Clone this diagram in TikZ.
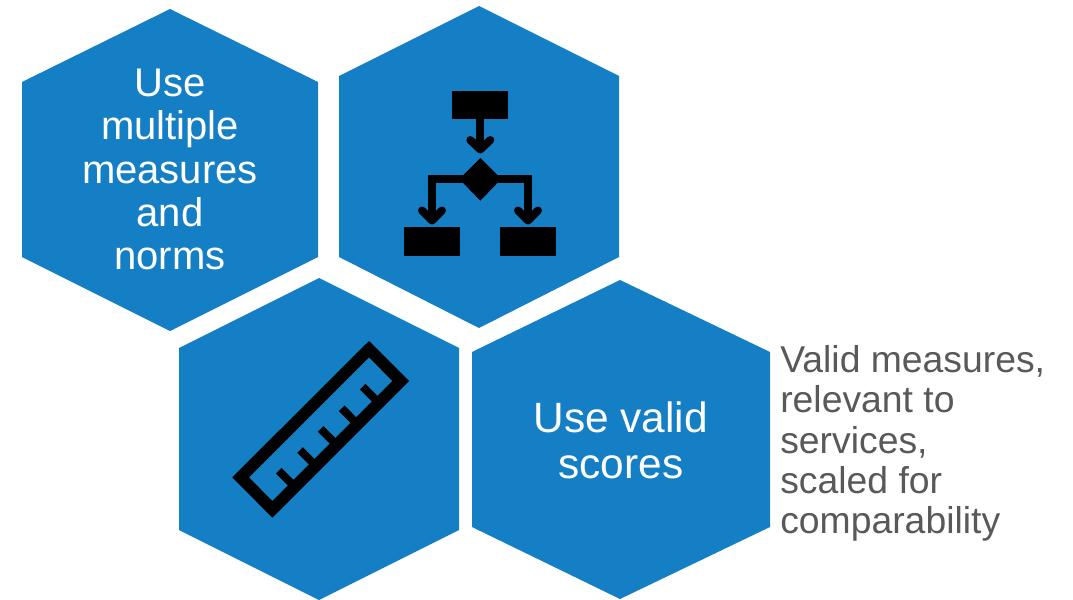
\documentclass[tikz,border=0pt]{standalone}
\usepackage{fontspec}
\setmainfont{Liberation Sans}
\definecolor{hexblue}{RGB}{20,127,196}
\definecolor{notegray}{RGB}{89,89,89}
\tikzset{
  hexshape/.style={fill=hexblue,draw=none},
  hextext/.style={text=white,align=center,inner sep=0pt},
  bigtext/.style={hextext,font=\fontsize{31.8}{34.5}\selectfont},
  midtext/.style={hextext,font=\fontsize{30}{32.4}\selectfont},
  notetext/.style={text=notegray,align=left,inner sep=0pt,anchor=north west,font=\fontsize{28}{30.1}\selectfont},
  iconfill/.style={fill=black,draw=none},
  iconline/.style={draw=black,line width=6pt,line join=miter},
  iconhead/.style={draw=black,line width=6pt,line cap=round,line join=round},
  tickline/.style={draw=black,line width=6pt}
}
\begin{document}
\begin{tikzpicture}[x=0.75pt,y=-0.75pt]
\useasboundingbox (0,0) rectangle (1073,599);
% hexagons
\fill[hexshape] (170,9)--(318,82)--(318,257)--(170,331)--(22,257)--(22,82)--cycle;
\fill[hexshape] (479,6)--(619,76)--(619,257)--(479,328)--(339,257)--(339,76)--cycle;
\fill[hexshape] (319,278)--(459,348)--(459,530)--(319,600)--(179,530)--(179,348)--cycle;
\fill[hexshape] (620,280)--(770,352)--(770,527)--(620,599)--(472,527)--(472,352)--cycle;
% texts
\node[midtext] (t1) at (170,169.5) {Use\\multiple\\measures\\and\\norms};
\node[bigtext] (t4) at (620.8,440) {Use valid\\scores};
\node[notetext] (t5) at (780,345.5) {Valid measures,\\relevant to\\services,\\scaled for\\comparability};
% flowchart icon
\fill[iconfill] (452,91) rectangle (508,119);
\fill[iconfill] (404,227) rectangle (460,255.7);
\fill[iconfill] (500,227) rectangle (556,255.7);
\fill[iconfill] (480.3,158)--(501.3,179)--(480.3,200.7)--(459.3,179)--cycle;
\draw[iconline] (480.3,119)--(480.3,148);
\draw[iconhead] (470.3,140)--(480.3,149.5)--(490.3,140);
\draw[iconline] (470,179)--(432,179)--(432,218);
\draw[iconline] (490,179)--(528,179)--(528,218);
\draw[iconhead] (422,210.5)--(432,220.5)--(442,210.5);
\draw[iconhead] (518,210.5)--(528,220.5)--(538,210.5);
% ruler icon
\fill[iconfill,even odd rule] (369,341)--(409,381)--(272.3,517.7)--(232.3,477.3)--cycle
  (369,357.3)--(392.3,381)--(272.3,501)--(249,477.3)--cycle;
\draw[tickline] (278.7,470.7)--(292,484);
\draw[tickline] (300,450)--(313,463);
\draw[tickline] (320.7,429)--(334,442.3);
\draw[tickline] (341.7,408.3)--(355,421.7);
\draw[tickline] (362.7,386.7)--(376,400);
\end{tikzpicture}
\end{document}
